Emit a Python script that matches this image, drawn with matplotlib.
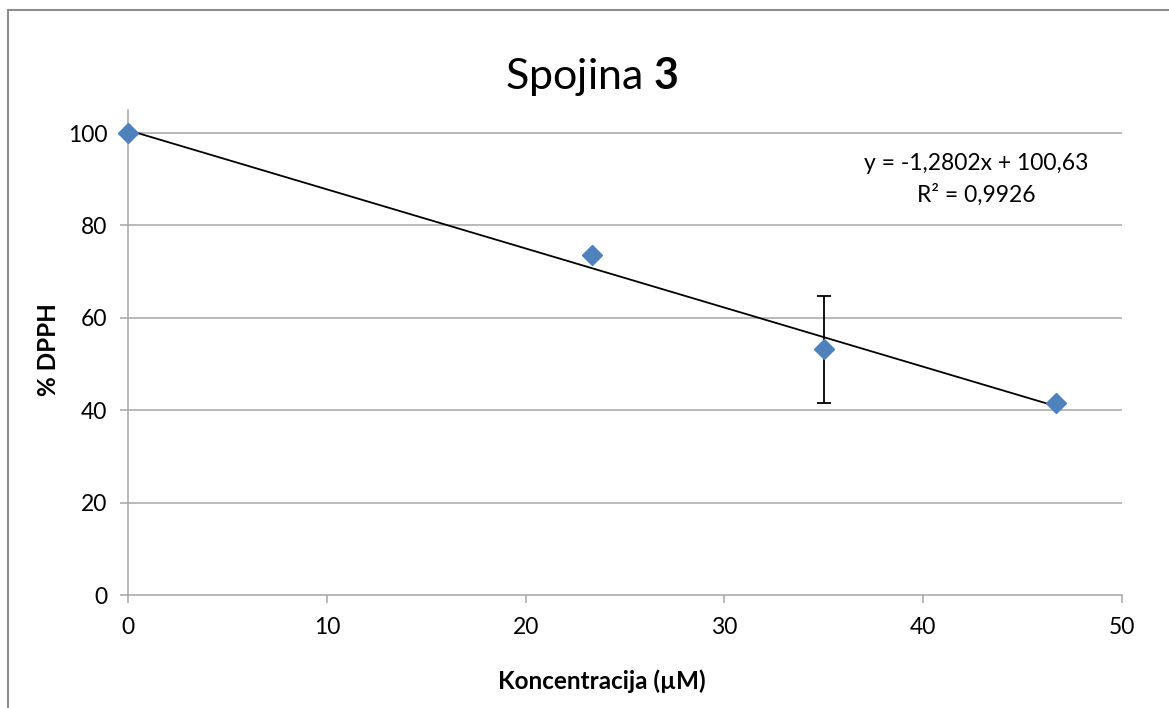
import matplotlib
matplotlib.use("Agg")
import matplotlib.pyplot as plt
from matplotlib.patches import Rectangle

plt.rcParams['font.family'] = ['Lato', 'DejaVu Sans']
plt.rcParams['mathtext.fontset'] = 'custom'
plt.rcParams['mathtext.rm'] = 'Lato'
plt.rcParams['mathtext.bf'] = 'Lato:bold'

# Data
conc = [0.0, 23.33, 35.0, 46.67]
dpph = [100.0, 73.5, 53.2, 41.5]
err = [0.0, 0.0, 11.6, 0.0]
slope = -1.2802
intercept = 100.63
x_ticks = [0, 10, 20, 30, 40, 50]
y_ticks = [0, 20, 40, 60, 80, 100]

W, H = 1169, 708
fig = plt.figure(figsize=(W / 100, H / 100), dpi=100)
ax = fig.add_axes([128 / W, 1 - 595 / H, (1122 - 128) / W, (595 - 110) / H])

grid_c = '#A6A6A6'
for y in y_ticks[1:]:
    ax.axhline(y, color=grid_c, lw=1.1, zorder=1)

# trendline
xl = [min(conc), max(conc)]
ax.plot(xl, [slope * v + intercept for v in xl], color='black', lw=1.3, zorder=3)

# error bars
ax.errorbar(conc, dpph, yerr=[e if e > 0 else float('nan') for e in err],
            fmt='none', ecolor='black', elinewidth=1.3, capsize=5, capthick=1.3, zorder=2)
ax.plot(conc, dpph, linestyle='none', marker='D', markersize=10,
        color='#4F81BD', markeredgecolor='#4F81BD', zorder=4, clip_on=False)

ax.set_xlim(0, 50)
ax.set_ylim(0, 105)
ax.set_xticks(x_ticks)
ax.set_yticks(y_ticks)
ax.set_xticklabels([str(v) for v in x_ticks])
ax.set_yticklabels([str(v) for v in y_ticks])
for s in ['top', 'right']:
    ax.spines[s].set_visible(False)
for s in ['left', 'bottom']:
    ax.spines[s].set_color(grid_c)
    ax.spines[s].set_linewidth(1.1)
ax.tick_params(axis='both', direction='out', length=6, width=1.1, color=grid_c,
               labelsize=16.5, labelcolor='black')
ax.tick_params(axis='x', pad=10)
ax.tick_params(axis='y', pad=9)

fig.text(592 / W, 1 - 77 / H, 'Spojina $\\mathbf{3}$', ha='center', va='center', fontsize=31)
fig.text(602 / W, 1 - 681 / H, 'Koncentracija (µM)', ha='center', va='center',
         fontsize=17.5, fontweight='bold')
fig.text(49 / W, 1 - 350 / H, '% DPPH', ha='center', va='center', rotation=90,
         fontsize=17.5, fontweight='bold')

eq = f'y = {slope:.4f}x + {intercept:.2f}'.replace('.', ',')
fig.text(976 / W, 1 - 163 / H, eq, ha='center', va='center', fontsize=16.5)
fig.text(976 / W, 1 - 195 / H, 'R² = 0,9926', ha='center', va='center', fontsize=16.5)

fig.patches.append(Rectangle((8 / W, -0.2), 1.5, 1.2 - 10 / H, transform=fig.transFigure,
                             fill=False, edgecolor='#8C8C8C', lw=1.5))

fig.savefig('out.png', dpi=100)
